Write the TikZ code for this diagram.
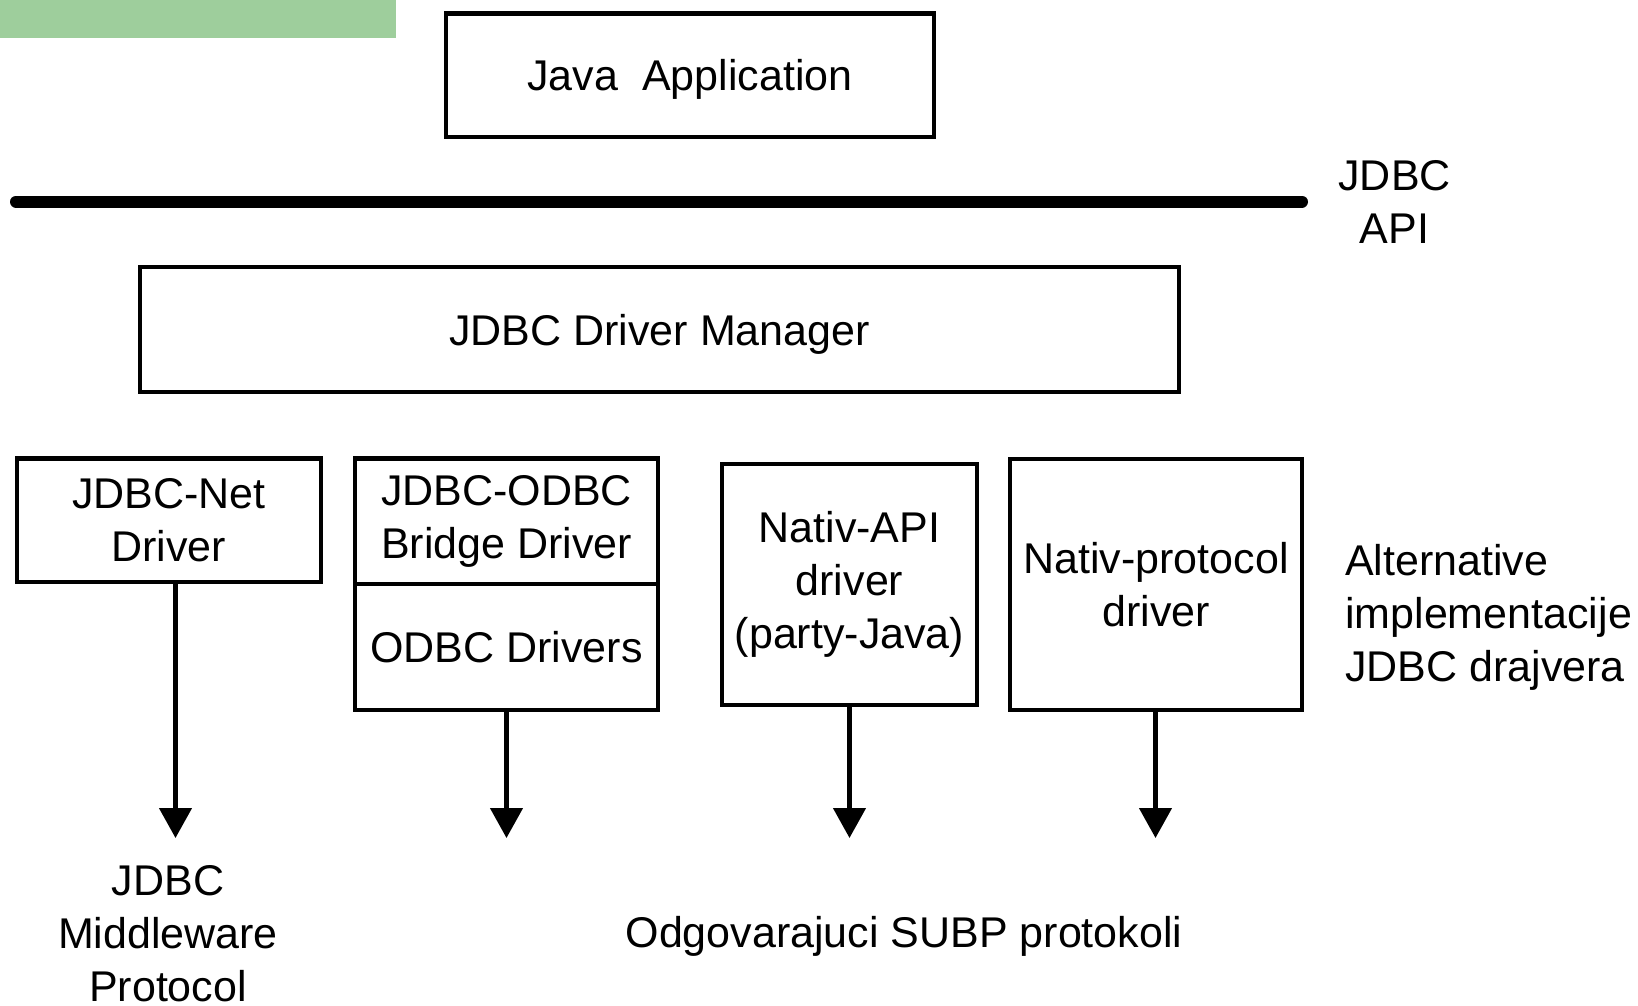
\documentclass[tikz,border=0pt]{standalone}
\usepackage{fontspec}
\setmainfont{Liberation Sans}
\usetikzlibrary{arrows.meta}
\definecolor{bandgreen}{RGB}{158,206,156}
\tikzset{
  txt/.style={font=\fontsize{43}{53}\selectfont},
  box/.style={txt, draw, line width=4.5pt, inner sep=0pt, align=center},
  lbl/.style={txt, inner sep=0pt, align=center},
  flow/.style={line width=4.5pt, -{Triangle[length=30pt,width=32pt]}},
  apibar/.style={line width=12pt, line cap=round},
}
\begin{document}
\begin{tikzpicture}[x=1pt,y=-1pt]
\useasboundingbox (0,0) rectangle (1638,1005);

% header band
\fill[bandgreen] (0,0) rectangle (396,37.6);

% application layer and API bar
\node[box, minimum width=488pt, minimum height=123.5pt, text depth=0pt] (app) at (690,75.3) {Java\ \ Application};
\coordinate (barL) at (16,201.6);
\coordinate (barR) at (1302,201.6);
\draw[apibar] (barL) -- (barR);
\node[lbl] (api) at (1394.6,202) {JDBC\\API};

% driver manager
\node[box, minimum width=1039pt, minimum height=125pt, text depth=0pt] (mgr) at (659.5,329.5) {JDBC Driver Manager};

% driver implementations
\node[box, minimum width=304pt, minimum height=123.5pt] (net) at (168.8,520.3) {JDBC-Net\\Driver};
\node[box, minimum width=303pt, minimum height=125.5pt] (bridge) at (506.5,521.25) {JDBC-ODBC\\Bridge Driver};
\node[box, minimum width=303pt, minimum height=126pt] (odbc) at (506.5,647) {ODBC Drivers};
\node[box, minimum width=255pt, minimum height=241pt] (napi) at (849.5,584.5) {Nativ-API\\driver\\(party-Java)};
\node[box, minimum width=292pt, minimum height=251pt] (nproto) at (1156,584.3) {Nativ-protocol\\driver};
\node[lbl, align=left, anchor=west] (alt) at (1345,617) {Alternative\\implementacije\\JDBC drajvera};

% protocol arrows
\coordinate (e1) at (175.5,838);
\coordinate (e2) at (506.5,838);
\coordinate (e3) at (849.5,838);
\coordinate (e4) at (1155.5,838);
\draw[flow] (net.south -| e1) -- (e1);
\draw[flow] (odbc.south -| e2) -- (e2);
\draw[flow] (napi.south -| e3) -- (e3);
\draw[flow] (nproto.south -| e4) -- (e4);

% protocol labels
\node[lbl] (mw) at (168,934) {JDBC\\Middleware\\Protocol};
\node[lbl] (subp) at (904,936) {Odgovarajuci SUBP protokoli};
\end{tikzpicture}
\end{document}
